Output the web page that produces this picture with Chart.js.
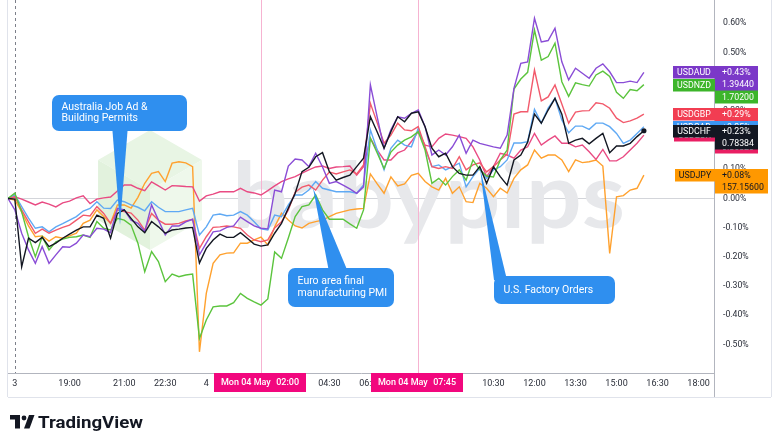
<!DOCTYPE html>
<html>
<head>
<meta charset="utf-8">
<title>USD crosses - % change</title>
<script src="https://cdn.jsdelivr.net/npm/chart.js@4.4.1/dist/chart.umd.min.js"></script>
<style>
    body { margin: 0; background: #ffffff; }
    /* fixed size chart box */
    .chart-container { position: relative; width: 780px; height: 447px; }
</style>
</head>
<body>
<div class="chart-container"><canvas id="fxChart"></canvas></div>
<script>
    // 15 minute bars, time in hours counted from 00:00 on the 3rd
    const firstBarHour = 16.75;
    const barHours = 0.25;

    // % change since the first bar
    const usdchf = [0,-0.002,-0.234,-0.136,-0.151,-0.133,-0.165,-0.153,-0.136,-0.122,
        -0.108,-0.097,-0.097,-0.057,-0.068,-0.136,-0.051,-0.039,-0.068,-0.097,
        -0.117,-0.079,-0.097,-0.119,-0.108,-0.105,-0.101,-0.099,-0.221,-0.171,
        -0.142,-0.122,-0.133,-0.133,-0.117,-0.136,-0.156,-0.163,-0.159,-0.119,
        -0.085,-0.033,0.018,0.092,0.107,0.143,0.157,0.092,0.063,0.072,
        0.080,0.109,0.138,0.280,0.228,0.172,0.229,0.280,0.263,0.292,
        0.297,0.246,0.172,0.143,0.155,0.109,0.086,0.080,0.080,0.109,
        0.052,0.109,0.075,0.046,0.132,0.149,0.193,0.289,0.258,0.303,
        0.343,0.289,0.189,0.200,0.206,0.187,0.206,0.223,0.157,0.180,
        0.180,0.189,0.212,0.232];
    const usdaud = [0,-0.039,-0.119,-0.176,-0.222,-0.165,-0.222,-0.193,-0.165,-0.167,
        -0.153,-0.125,-0.131,-0.102,-0.105,-0.117,-0.034,-0.039,-0.074,-0.085,
        -0.114,-0.022,-0.074,-0.125,-0.094,-0.094,-0.080,-0.071,-0.193,-0.153,
        -0.114,-0.111,-0.099,-0.094,-0.064,-0.079,-0.094,-0.102,-0.104,0.029,
        0.023,0.111,0.135,0.132,0.109,0.155,0.108,0.052,0.058,0.046,
        0.033,0.018,0.040,0.389,0.279,0.172,0.235,0.280,0.275,0.292,
        0.303,0.246,0.149,0.166,0.149,0.177,0.217,0.155,0.200,0.189,
        0.183,0.177,0.172,0.217,0.377,0.463,0.468,0.617,0.536,0.541,
        0.583,0.468,0.406,0.446,0.429,0.412,0.446,0.461,0.434,0.397,
        0.397,0.402,0.397,0.432];
    const usdnzd = [0,0.018,-0.046,-0.131,-0.199,-0.131,-0.176,-0.148,-0.139,-0.133,
        -0.131,-0.125,-0.133,-0.079,-0.102,-0.108,-0.068,-0.074,-0.091,-0.153,
        -0.251,-0.182,-0.216,-0.285,-0.259,-0.268,-0.262,-0.259,-0.479,-0.416,
        -0.371,-0.368,-0.368,-0.357,-0.325,-0.342,-0.354,-0.365,-0.344,-0.183,
        -0.205,-0.135,-0.062,-0.028,-0.022,0.012,-0.039,-0.071,-0.071,-0.071,
        -0.087,-0.102,-0.039,0.207,0.156,0.103,0.159,0.183,0.200,0.211,
        0.229,0.166,0.052,0.069,0.046,0.075,0.098,0.063,0.132,0.098,
        0.077,0.074,0.132,0.166,0.375,0.409,0.432,0.577,0.474,0.486,
        0.532,0.400,0.350,0.396,0.390,0.385,0.423,0.436,0.418,0.364,
        0.343,0.373,0.369,0.390];
    const usdgbp = [0,0.006,-0.039,-0.080,-0.119,-0.105,-0.119,-0.108,-0.099,-0.091,
        -0.074,-0.057,-0.060,-0.028,-0.051,-0.085,-0.039,-0.045,-0.050,-0.074,
        -0.108,-0.051,-0.074,-0.088,-0.088,-0.085,-0.077,-0.071,-0.171,-0.131,
        -0.099,-0.097,-0.094,-0.097,-0.102,-0.125,-0.142,-0.148,-0.142,-0.101,
        -0.080,-0.039,0.022,0.039,0.046,0.029,0.063,0.091,0.084,0.091,
        0.098,0.084,0.115,0.326,0.259,0.189,0.217,0.258,0.235,0.232,
        0.246,0.177,0.109,0.103,0.109,0.103,0.143,0.098,0.115,0.122,
        0.091,0.109,0.132,0.152,0.289,0.297,0.297,0.440,0.334,0.348,
        0.389,0.324,0.258,0.296,0.300,0.301,0.328,0.324,0.309,0.275,
        0.260,0.266,0.275,0.289];
    const usdcad = [0,0.012,-0.028,-0.067,-0.102,-0.097,-0.114,-0.097,-0.086,-0.074,
        -0.062,-0.043,-0.034,-0.011,-0.033,-0.034,-0.005,-0.011,-0.022,-0.030,
        -0.042,-0.011,-0.030,-0.045,-0.045,-0.045,-0.039,-0.034,-0.125,-0.097,
        -0.057,-0.053,-0.059,-0.057,-0.045,-0.057,-0.080,-0.104,-0.108,-0.057,
        -0.062,-0.022,0.012,0.012,0.029,0.058,0.035,0.029,0.023,0.023,
        0.023,0.018,0.046,0.235,0.166,0.098,0.172,0.200,0.183,0.177,
        0.240,0.172,0.109,0.115,0.098,0.109,0.121,0.040,0.075,0.103,
        0.069,0.098,0.109,0.132,0.190,0.190,0.195,0.305,0.258,0.310,
        0.343,0.269,0.225,0.248,0.248,0.237,0.258,0.258,0.246,0.223,
        0.189,0.200,0.223,0.246];
    const usdeur = [0,0.006,-0.002,-0.012,-0.022,-0.012,-0.019,-0.029,-0.015,-0.009,
        0.002,0.009,-0.017,-0.002,0.002,0.005,0.026,0.046,0.046,0.035,
        0.027,0.057,0.043,0.029,0.044,0.043,0.041,0.040,-0.009,0.009,
        0.015,0.023,0.023,0.023,0.035,0.023,0.019,0.012,0.027,0.043,
        0.058,0.067,0.075,0.087,0.098,0.108,0.111,0.103,0.108,0.109,
        0.111,0.080,0.109,0.206,0.166,0.132,0.132,0.156,0.166,0.195,
        0.229,0.183,0.177,0.206,0.221,0.217,0.212,0.206,0.177,0.132,
        0.075,0.109,0.155,0.149,0.138,0.166,0.177,0.223,0.183,0.200,
        0.214,0.189,0.189,0.177,0.183,0.160,0.134,0.168,0.129,0.129,
        0.143,0.166,0.189,0.217];
    const usdjpy = [0,-0.005,-0.046,-0.094,-0.131,-0.128,-0.146,-0.131,-0.136,-0.128,
        -0.119,-0.085,-0.074,-0.039,-0.062,-0.085,-0.022,-0.022,-0.033,0.004,
        0.052,0.086,0.092,0.058,0.121,0.126,0.122,0.109,-0.525,-0.325,
        -0.222,-0.193,-0.187,-0.186,-0.153,-0.153,-0.142,-0.132,-0.159,-0.097,
        -0.050,-0.074,-0.094,-0.101,-0.085,-0.079,-0.074,-0.062,-0.051,-0.045,
        -0.039,-0.036,-0.034,0.084,0.050,0.018,0.074,0.043,0.050,0.079,
        0.086,0.058,0.040,0.029,0.069,0.018,0.040,-0.011,-0.014,0.052,
        0.035,0.006,0.035,0.019,0.069,0.098,0.115,0.166,0.138,0.149,
        0.149,0.132,0.092,0.132,0.123,0.126,0.132,0.111,-0.188,0.006,
        0.010,0.029,0.035,0.080];

    const pairNames = ['USDCHF', 'USDAUD', 'USDNZD', 'USDGBP', 'USDCAD', 'USDEUR', 'USDJPY'];
    const lastPrices = ['0.78384', '1.39440', '1.70200', '0.74370', '1.36510', '0.85320', '157.15600'];

    const xTickHours = [17, 19, 21, 22.5, 24, 28.5, 30, 34.5, 36, 37.5, 39, 40.5, 42];
    const xTickLabels = ['3', '19:00', '21:00', '22:30', '4', '04:30', '06:00', '10:30', '12:00', '13:30', '15:00', '16:30', '18:00'];
    const yTickValues = [-0.5, -0.4, -0.3, -0.2, -0.1, 0, 0.1, 0.2, 0.3, 0.4, 0.5, 0.6];

    const sessionBreakHour = 17;
    const eventHours = [26, 31.75];
    const eventLabels = [['Mon 04 May', '02:00'], ['Mon 04 May', '07:45']];
    const calloutTexts = [['Australia Job Ad &', 'Building Permits'], ['Euro area final', 'manufacturing PMI'], ['U.S. Factory Orders']];

    const seriesList = [usdchf, usdaud, usdnzd, usdgbp, usdcad, usdeur, usdjpy];
    const lineColors = ['#131722', '#8A4DD6', '#5BC43D', '#F25A6C', '#5FA9F4', '#E94B83', '#FFA12E'];
    const boxColors = ['#131722', '#7B38C8', '#3CB52A', '#F23D52', '#3B95F2', '#E91E63', '#FF9800'];
    const boxTextColors = ['#fff', '#fff', '#fff', '#fff', '#fff', '#fff', '#131722'];

    const barTimes = usdchf.map((_, i) => firstBarHour + i * barHours);
    const lastIdx = usdchf.length - 1;

    function drawHexLogo(ctx, cx, cy, r) {
        const v = [];
        for (let k = 0; k < 6; k++) {
            const a = (-90 + 60 * k) * Math.PI / 180;
            v.push([cx + r * Math.cos(a), cy + r * Math.sin(a)]);
        }
        const faces = [[[cx, cy], v[5], v[0], v[1], '#e8f5e4'], [[cx, cy], v[1], v[2], v[3], '#eef8eb'], [[cx, cy], v[3], v[4], v[5], '#e2f2dd']];
        faces.forEach(f => {
            ctx.beginPath();
            ctx.moveTo(f[0][0], f[0][1]);
            for (let k = 1; k < 4; k++) ctx.lineTo(f[k][0], f[k][1]);
            ctx.closePath();
            ctx.fillStyle = f[4];
            ctx.fill();
        });
    }

    const decorations = {
        id: 'decorations',
        beforeDatasetsDraw(chart) {
            const { ctx, chartArea: a, scales: { x } } = chart;
            ctx.save();
            ctx.beginPath();
            ctx.rect(a.left, a.top, a.right - a.left, a.bottom - a.top);
            ctx.clip();

            // watermark
            drawHexLogo(ctx, 150, 190, 60);
            ctx.font = '700 92px Lato';
            const w = ctx.measureText('babypips').width;
            ctx.save();
            ctx.translate(232, 228);
            ctx.scale(393 / w, 1);
            ctx.fillStyle = '#e7e8eb';
            ctx.textBaseline = 'alphabetic';
            ctx.fillText('babypips', 0, 0);
            ctx.restore();

            // session break
            const sx = Math.round(x.getPixelForValue(sessionBreakHour)) + 0.5;
            ctx.strokeStyle = '#7d808a';
            ctx.lineWidth = 1;
            ctx.setLineDash([3, 3]);
            ctx.beginPath(); ctx.moveTo(sx, a.top); ctx.lineTo(sx, a.bottom); ctx.stroke();
            ctx.setLineDash([]);

            // event lines
            ctx.strokeStyle = '#f6b3d1';
            eventHours.forEach(h => {
                const ex = Math.round(x.getPixelForValue(h)) + 0.5;
                ctx.beginPath(); ctx.moveTo(ex, a.top); ctx.lineTo(ex, a.bottom); ctx.stroke();
            });
            ctx.restore();
        },
        afterDraw(chart) {
            const { ctx, chartArea: a, scales: { x, y } } = chart;
            ctx.save();

            // callouts
            const callouts = [
                { box: [52, 95, 135, 36], tri: [[112, 125], [128, 125], [120, 225]] },
                { box: [288, 268, 106, 39], tri: [[329, 272], [348, 272], [313, 188]] },
                { box: [494, 276, 121, 28], tri: [[494, 280], [507, 280], [480, 168]] }
            ];
            ctx.fillStyle = '#2F8FEF';
            callouts.forEach((c, n) => {
                const [bx, by, bw, bh] = c.box;
                ctx.beginPath();
                ctx.roundRect(bx, by, bw, bh, 7);
                ctx.fill();
                ctx.beginPath();
                ctx.moveTo(c.tri[0][0], c.tri[0][1]);
                ctx.lineTo(c.tri[1][0], c.tri[1][1]);
                ctx.lineTo(c.tri[2][0], c.tri[2][1]);
                ctx.closePath();
                ctx.fill();
                const lines = calloutTexts[n];
                ctx.save();
                ctx.fillStyle = '#ffffff';
                ctx.font = '10.5px Roboto';
                ctx.textBaseline = 'middle';
                const lh = 11.5;
                const y0 = by + bh / 2 - (lines.length - 1) * lh / 2;
                lines.forEach((t, k) => ctx.fillText(t, bx + 9.5, y0 + k * lh));
                ctx.restore();
            });

            // event time labels on the time axis
            ctx.font = '500 9px Roboto';
            ctx.textBaseline = 'middle';
            eventHours.forEach((h, n) => {
                const ex = x.getPixelForValue(h);
                ctx.fillStyle = '#F2077E';
                ctx.fillRect(Math.round(ex - 47), a.bottom, 92, 19);
                ctx.fillStyle = '#ffffff';
                ctx.textAlign = 'left';
                ctx.fillText(eventLabels[n][0], Math.round(ex - 47) + 7, a.bottom + 10);
                ctx.textAlign = 'right';
                ctx.fillText(eventLabels[n][1], Math.round(ex + 45) - 7, a.bottom + 10);
            });
            ctx.textAlign = 'left';

            // last value labels: GBP, EUR, CAD, CHF, NZD, AUD, JPY
            const order = [3, 5, 4, 0, 2, 1, 6];
            ctx.font = '8.8px Roboto';
            order.forEach(k => {
                const v = seriesList[k][lastIdx];
                const yc = Math.round(y.getPixelForValue(v));
                const name = pairNames[k];
                const pct = (v >= 0 ? '+' : '') + v.toFixed(2) + '%';
                const nameW = Math.round(ctx.measureText(name).width) + 8;
                const valW = Math.round(Math.max(ctx.measureText(pct).width, ctx.measureText(lastPrices[k]).width)) + 11;
                ctx.fillStyle = boxColors[k];
                ctx.fillRect(a.right + 1 - nameW, yc - 6, nameW, 12.5);
                ctx.fillRect(a.right + 1, yc - 6, valW, 24.5);
                ctx.fillStyle = boxTextColors[k];
                ctx.textAlign = 'center';
                ctx.fillText(name, a.right + 1 - nameW / 2, yc + 0.5);
                ctx.textAlign = 'left';
                ctx.fillText(pct, a.right + 8, yc + 0.5);
                ctx.fillText(lastPrices[k], a.right + 8, yc + 12.5);
            });

            // pane frame
            ctx.strokeStyle = '#e0e3eb';
            ctx.lineWidth = 1;
            ctx.beginPath();
            ctx.moveTo(8, 397.5); ctx.lineTo(771, 397.5);
            ctx.moveTo(771.5, 0); ctx.lineTo(771.5, 397);
            ctx.moveTo(7.5, 0); ctx.lineTo(7.5, 397);
            ctx.stroke();
            ctx.strokeStyle = '#b2b5be';
            ctx.beginPath();
            ctx.moveTo(a.right + 0.5, a.bottom); ctx.lineTo(a.right + 0.5, 397);
            ctx.stroke();

            // TradingView mark
            ctx.fillStyle = '#131722';
            ctx.fillRect(10, 415, 10, 4.5);
            ctx.fillRect(15, 415, 5, 13.5);
            ctx.beginPath(); ctx.arc(24, 418, 2.4, 0, Math.PI * 2); ctx.fill();
            ctx.beginPath();
            ctx.moveTo(29, 415); ctx.lineTo(34.5, 415); ctx.lineTo(29.5, 428.5); ctx.lineTo(24, 428.5);
            ctx.closePath(); ctx.fill();
            ctx.font = '700 17px Roboto';
            const tw = ctx.measureText('TradingView').width;
            ctx.save();
            ctx.translate(38, 428);
            ctx.scale(105 / tw, 1);
            ctx.textBaseline = 'alphabetic';
            ctx.fillText('TradingView', 0, 0);
            ctx.restore();

            ctx.restore();
        }
    };

    const ctx = document.getElementById('fxChart').getContext('2d');
    window.myFxChart = new Chart(ctx, {
        type: 'line',
        data: {
            datasets: seriesList.map((s, k) => ({
                label: pairNames[k],
                data: s.map((v, i) => ({ x: barTimes[i], y: v })),
                borderColor: lineColors[k],
                borderWidth: 1.4,
                tension: 0,
                pointRadius: k === 0 ? (c => c.dataIndex === lastIdx ? 2.6 : 0) : 0,
                pointBackgroundColor: lineColors[k],
                pointBorderWidth: 0,
                fill: false
            }))
        },
        options: {
            responsive: true,
            maintainAspectRatio: false,
            animation: false,
            devicePixelRatio: 1,
            layout: { autoPadding: false, padding: { left: 8, right: 9, top: 0, bottom: 50 } },
            plugins: { legend: { display: false }, tooltip: { enabled: false } },
            scales: {
                x: {
                    type: 'linear',
                    min: 16.75,
                    max: 42.564,
                    afterBuildTicks: s => { s.ticks = xTickHours.map(v => ({ value: v })); },
                    afterFit: s => { s.height = 24; s.paddingLeft = 0; s.paddingRight = 0; },
                    ticks: {
                        autoSkip: false,
                        maxRotation: 0,
                        padding: 5,
                        color: '#2a2e39',
                        font: { family: 'Roboto', size: 9 },
                        callback: v => { const i = xTickHours.indexOf(v); return i >= 0 ? xTickLabels[i] : ''; }
                    },
                    grid: { drawOnChartArea: false, drawTicks: false },
                    border: { display: true, color: '#b2b5be' }
                },
                y: {
                    position: 'right',
                    min: -0.5976,
                    max: 0.6798,
                    afterBuildTicks: s => { s.ticks = yTickValues.map(v => ({ value: v })); },
                    afterFit: s => { s.width = 57; s.paddingTop = 0; s.paddingBottom = 0; },
                    ticks: {
                        padding: 9,
                        color: '#2a2e39',
                        font: { family: 'Roboto', size: 8.7 },
                        callback: v => v.toFixed(2) + '%'
                    },
                    grid: {
                        drawTicks: false,
                        color: c => (c.tick && c.tick.value === 0) ? '#d3d5da' : 'rgba(0,0,0,0)'
                    },
                    border: { display: true, color: '#b2b5be' }
                }
            }
        },
        plugins: [decorations]
    });
</script>
</body>
</html>
